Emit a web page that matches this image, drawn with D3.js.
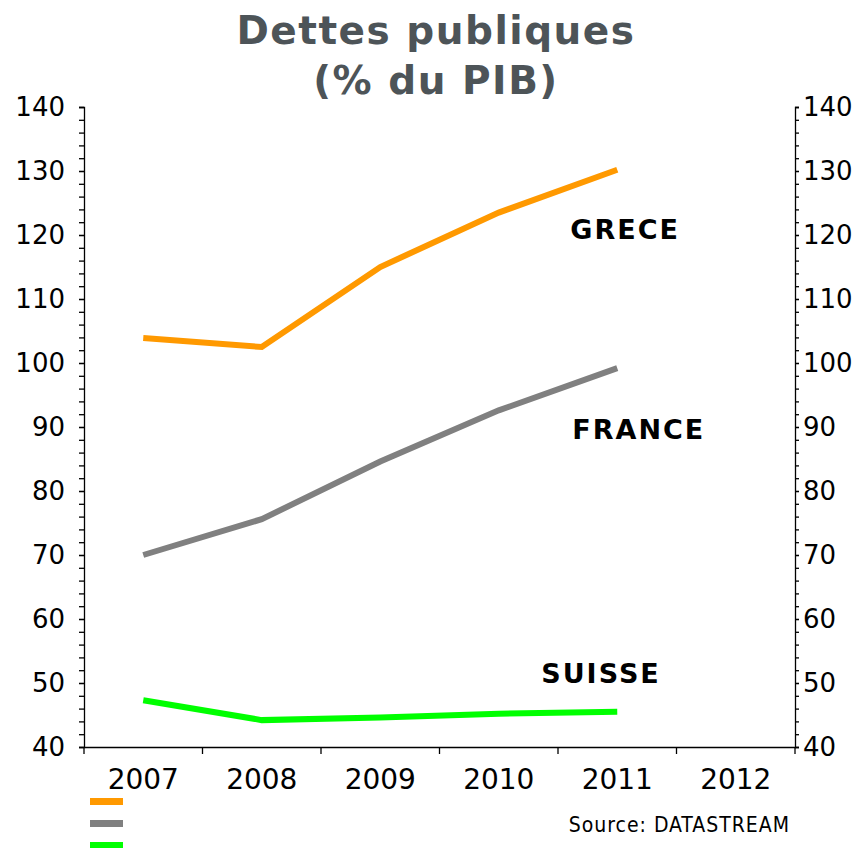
<!DOCTYPE html>
<html>
<head>
<meta charset="utf-8">
<script src="https://cdn.jsdelivr.net/npm/d3@7"></script>
<style>
  body { margin: 0; background: #fff; }
  .axis path, .axis line { stroke: #000; stroke-width: 1.3px; }
  .axis text { font-family: "DejaVu Sans", Verdana, sans-serif; fill: #000; }
</style>
</head>
<body>
<div id="chart"></div>
<script>
// data
var years = ["2007", "2008", "2009", "2010", "2011", "2012"];
var greceValues = [103.9, 102.5, 115.0, 123.5, 130.2];
var franceValues = [70.0, 75.6, 84.6, 92.6, 99.2];
var suisseValues = [47.3, 44.2, 44.6, 45.2, 45.5];
var yTicks = [40, 50, 60, 70, 80, 90, 100, 110, 120, 130, 140];

var width = 860, height = 848;
var margin = {top: 107, right: 65, bottom: 101, left: 84};

var svg = d3.select("#chart")
    .append("svg")
        .attr("width", width)
        .attr("height", height);

var x = d3.scaleBand()
    .domain(years)
    .range([margin.left, width - margin.right])
    .padding(0);

var y = d3.scaleLinear()
    .domain([40, 140])
    .range([height - margin.bottom, margin.top]);

var cx = function(i) { return x(years[i]) + x.bandwidth() / 2; };

// title
var title = svg.append("text")
    .attr("text-anchor", "middle")
    .style("font-family", "'DejaVu Sans', Verdana, sans-serif")
    .style("font-weight", "bold")
    .style("font-size", "39px")
    .style("letter-spacing", "1.5px")
    .style("fill", "#4d5458");
title.append("tspan").attr("x", 436).attr("y", 44).text("Dettes publiques");
title.append("tspan").attr("x", 436).attr("y", 94).text("(% du PIB)");

// minor ticks every 2
var minor = d3.range(40, 141, 2);

// left axis
svg.append("g")
    .attr("class", "axis")
    .attr("transform", "translate(" + margin.left + ",0)")
    .call(d3.axisLeft(y).tickValues(minor).tickSize(5).tickFormat(""))
    .call(function(g) { g.select(".domain").remove(); });
svg.append("g")
    .attr("class", "axis")
    .attr("transform", "translate(" + margin.left + ",0)")
    .call(d3.axisLeft(y).tickValues(yTicks).tickSizeOuter(0).tickSize(5).tickPadding(14))
    .selectAll("text").style("font-size", "26px");

// right axis
svg.append("g")
    .attr("class", "axis")
    .attr("transform", "translate(" + (width - margin.right) + ",0)")
    .call(d3.axisRight(y).tickValues(minor).tickSize(4).tickFormat(""))
    .call(function(g) { g.select(".domain").remove(); });
svg.append("g")
    .attr("class", "axis")
    .attr("transform", "translate(" + (width - margin.right) + ",0)")
    .call(d3.axisRight(y).tickValues(yTicks).tickSizeOuter(0).tickSize(4).tickPadding(4))
    .selectAll("text").style("font-size", "26px");

// bottom axis: labels centred in bands, ticks on band edges
var xAxis = svg.append("g")
    .attr("class", "axis")
    .attr("transform", "translate(0," + (height - margin.bottom) + ")")
    .call(d3.axisBottom(x).tickSize(0).tickSizeOuter(0).tickPadding(22));
xAxis.selectAll("text").style("font-size", "28px");
var edges = years.map(function(d) { return x(d); }).concat([x.range()[1]]);
xAxis.selectAll(".edge")
    .data(edges)
    .enter().append("line")
        .attr("class", "edge")
        .attr("x1", function(d) { return d; })
        .attr("x2", function(d) { return d; })
        .attr("y1", 0)
        .attr("y2", 7);

// lines
var series = [
    {name: "GRECE", values: greceValues, color: "#ff9900", labelAt: 119.4, dx: -47},
    {name: "FRANCE", values: franceValues, color: "#808080", labelAt: 88.1, dx: -45},
    {name: "SUISSE", values: suisseValues, color: "#00ff00", labelAt: 50.0, dx: -76}
];

var line = d3.line()
    .x(function(d, i) { return cx(i); })
    .y(function(d) { return y(d); });

series.forEach(function(s) {
    svg.append("path")
        .datum(s.values)
        .attr("d", line)
        .attr("fill", "none")
        .attr("stroke", s.color)
        .attr("stroke-width", 6);

    svg.append("text")
        .attr("x", cx(4) + s.dx)
        .attr("y", y(s.labelAt))
        .text(s.name)
        .style("font-family", "'DejaVu Sans', Verdana, sans-serif")
        .style("font-weight", "bold")
        .style("font-size", "27px")
        .style("letter-spacing", "2px")
        .style("fill", "#000");
});

// legend swatches (no text in the original)
svg.selectAll(".swatch")
    .data(series)
    .enter().append("rect")
        .attr("class", "swatch")
        .attr("x", 90)
        .attr("y", function(d, i) { return 798 + i * 22; })
        .attr("width", 33)
        .attr("height", 7)
        .attr("fill", function(d) { return d.color; });

// source
svg.append("text")
    .attr("x", 790)
    .attr("y", 832)
    .attr("text-anchor", "end")
    .text("Source:  DATASTREAM")
    .style("font-family", "'DejaVu Sans Condensed', 'DejaVu Sans', sans-serif")
    .style("font-size", "21px")
    .style("letter-spacing", "1px")
    .style("fill", "#000");
</script>
</body>
</html>
